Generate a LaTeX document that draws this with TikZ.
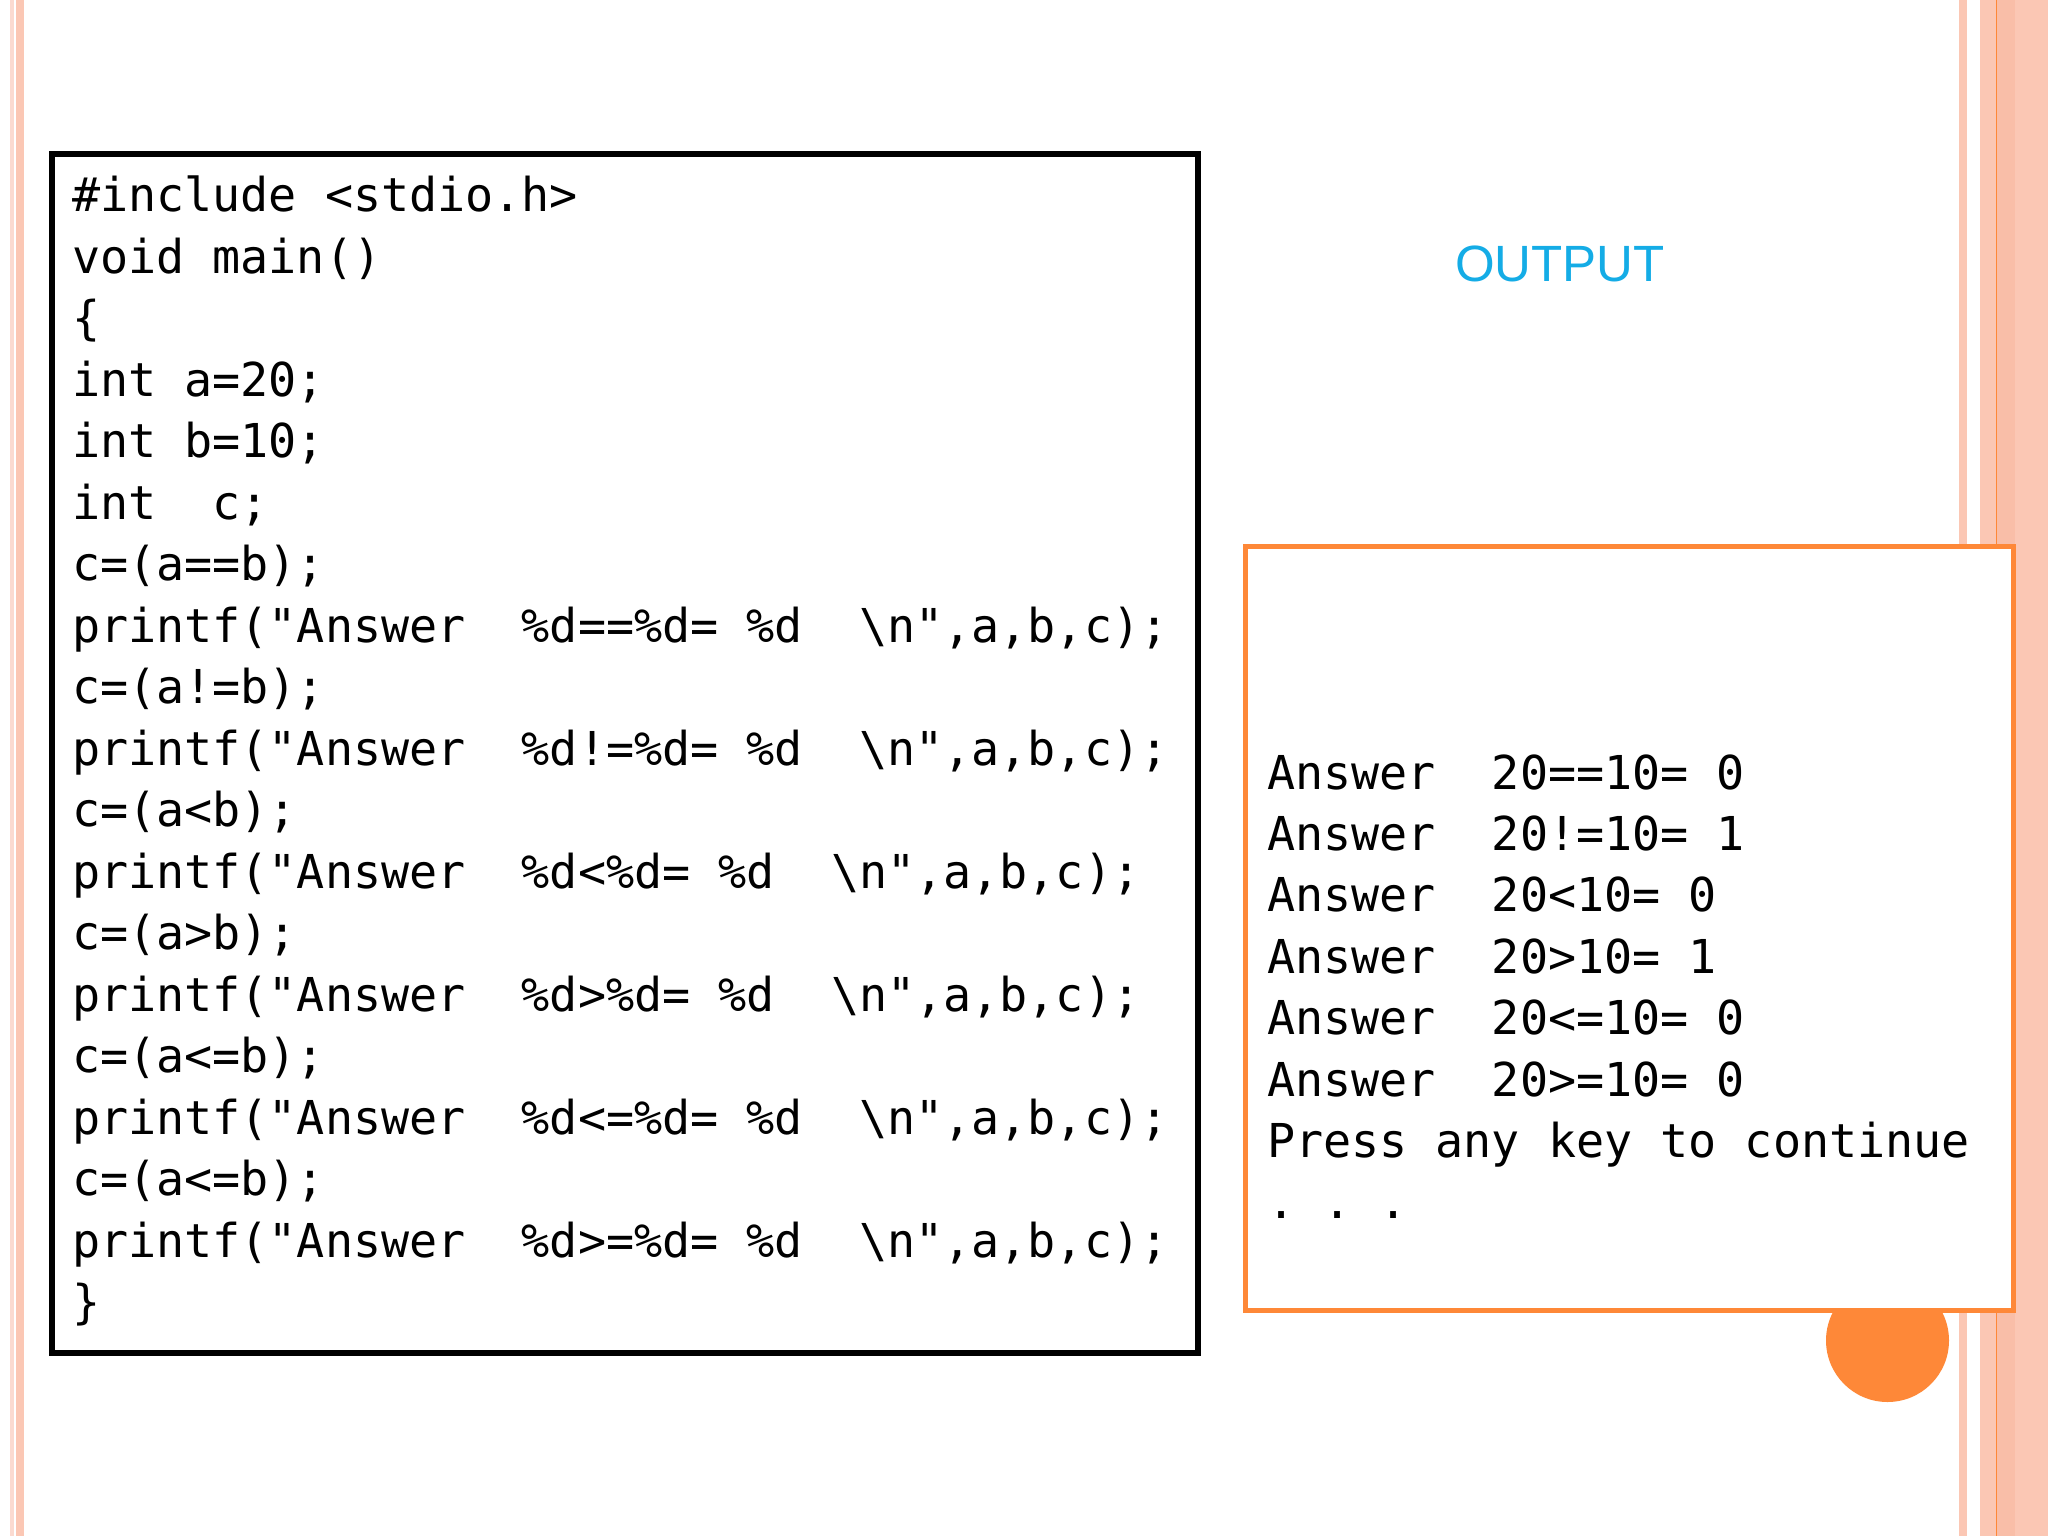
\documentclass[tikz,border=0pt]{standalone}
\usepackage{fontspec}
\setmainfont{Liberation Sans}
\newfontfamily\codefont{DejaVu Sans Mono}
\definecolor{salmon}{RGB}{251,199,180}
\definecolor{salmondk}{RGB}{249,190,168}
\definecolor{palepink}{RGB}{251,218,208}
\definecolor{orng}{RGB}{254,136,56}
\definecolor{cyanout}{RGB}{20,172,230}
\tikzset{
  codeline/.style={anchor=base west, inner sep=0pt, outer sep=0pt, font=\codefont\fontsize{46.7}{61.5}\selectfont, text=black},
  codebox/.style={draw=black, line width=5.5pt, fill=none, inner sep=0pt},
  outbox/.style={draw=orng, line width=5pt, fill=white, inner sep=0pt},
  stripe/.style={draw=none}
}
\begin{document}
\begin{tikzpicture}[x=1pt,y=-1pt]
\useasboundingbox (0,0) rectangle (2048,1536);
\fill[white] (0,0) rectangle (2048,1536);
% left stripes
\fill[palepink] (10,0) rectangle (13.5,1536);
\fill[salmon] (16,0) rectangle (24,1536);
% right stripes
\fill[salmon] (1959,0) rectangle (1967,1536);
\fill[salmon] (1980,0) rectangle (1996,1536);
\fill[orng] (1995.5,0) rectangle (1997,1536);
\fill[salmondk] (1997,0) rectangle (2015,1536);
\fill[salmon] (2015,0) rectangle (2048,1536);
% circle behind output box
\node[circle, fill=orng, minimum size=123pt, inner sep=0pt] (dot) at (1887.5,1340.5) {};
% output box
\node[outbox, minimum width=767.5pt, minimum height=764pt] (outbox) at (1629.25,928) {};
% code box
\node[codebox, minimum width=1146pt, minimum height=1199pt] (codebox) at (625,753.5) {};
% OUTPUT label
\node[anchor=base, inner sep=0pt, font=\fontsize{51}{60}\selectfont, text=cyanout] (outlabel) at (1560,281.7) {OUTPUT};
% code lines
\node[codeline] (c1) at (72,211.7) {\#include~<stdio.h>};
\node[codeline] (c2) at (72,273.2) {void~main()};
\node[codeline] (c3) at (72,334.7) {\{};
\node[codeline] (c4) at (72,396.2) {int~a=20;};
\node[codeline] (c5) at (72,457.7) {int~b=10;};
\node[codeline] (c6) at (72,519.2) {int~~c;};
\node[codeline] (c7) at (72,580.7) {c=(a==b);};
\node[codeline] (c8) at (72,642.2) {printf("Answer~~\%d==\%d=~\%d~~\textbackslash n",a,b,c);};
\node[codeline] (c9) at (72,703.7) {c=(a!=b);};
\node[codeline] (c10) at (72,765.2) {printf("Answer~~\%d!=\%d=~\%d~~\textbackslash n",a,b,c);};
\node[codeline] (c11) at (72,826.7) {c=(a<b);};
\node[codeline] (c12) at (72,888.2) {printf("Answer~~\%d<\%d=~\%d~~\textbackslash n",a,b,c);};
\node[codeline] (c13) at (72,949.7) {c=(a>b);};
\node[codeline] (c14) at (72,1011.2) {printf("Answer~~\%d>\%d=~\%d~~\textbackslash n",a,b,c);};
\node[codeline] (c15) at (72,1072.7) {c=(a<=b);};
\node[codeline] (c16) at (72,1134.2) {printf("Answer~~\%d<=\%d=~\%d~~\textbackslash n",a,b,c);};
\node[codeline] (c17) at (72,1195.7) {c=(a<=b);};
\node[codeline] (c18) at (72,1257.2) {printf("Answer~~\%d>=\%d=~\%d~~\textbackslash n",a,b,c);};
\node[codeline] (c19) at (72,1318.7) {\}};
% output lines
\node[codeline] (o1) at (1267,789) {Answer~~20==10=~0};
\node[codeline] (o2) at (1267,850.4) {Answer~~20!=10=~1};
\node[codeline] (o3) at (1267,911.8) {Answer~~20<10=~0};
\node[codeline] (o4) at (1267,973.2) {Answer~~20>10=~1};
\node[codeline] (o5) at (1267,1034.6) {Answer~~20<=10=~0};
\node[codeline] (o6) at (1267,1096) {Answer~~20>=10=~0};
\node[codeline] (o7) at (1267,1157.4) {Press~any~key~to~continue};
\node[codeline] (o8) at (1267,1218.8) {.~.~.};
\end{tikzpicture}
\end{document}
